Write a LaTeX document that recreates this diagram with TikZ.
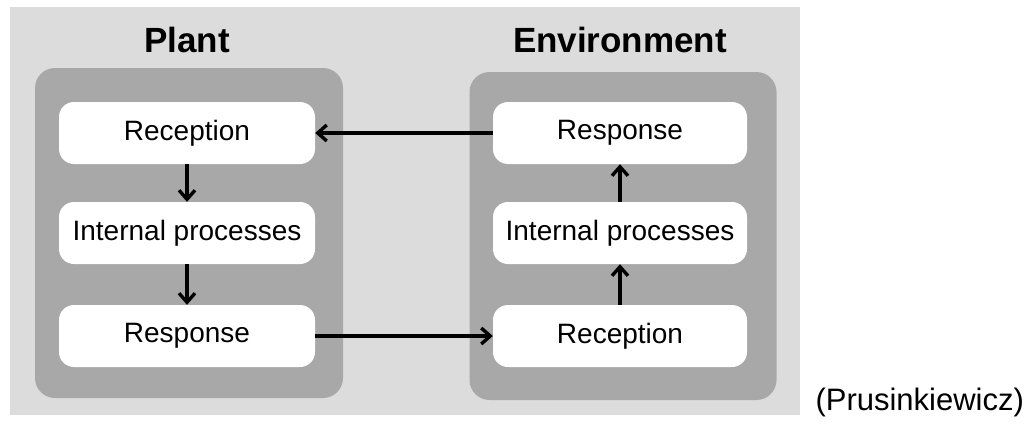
\documentclass[tikz,border=0pt]{standalone}
\usepackage{fontspec}
\setmainfont{Liberation Sans}
\definecolor{bglight}{HTML}{DCDCDC}
\definecolor{bgdark}{HTML}{A8A8A8}
\tikzset{
	panel/.style={fill=bgdark, rounded corners=20pt, minimum width=308pt, minimum height=330pt},
	stage/.style={fill=white, rounded corners=15pt, minimum width=256pt, minimum height=62pt,
		font=\fontsize{28}{32}\selectfont},
	heading/.style={font=\fontsize{35}{40}\selectfont\bfseries},
	flow/.style={-{Straight Barb[length=9pt,width=16pt]}, line width=3.4pt}
}
\usetikzlibrary{arrows.meta}
\begin{document}
\begin{tikzpicture}[x=1pt, y=-1pt]
	\useasboundingbox (0,0) rectangle (1027,423);
	\fill[bglight] (10,7) rectangle (800,415);

	\draw (187, 40) node[heading] (plant) {Plant};
	\draw (189,233) node[panel] (plantbox) {};
	\draw (187,133) node[stage] (prec) {Reception};
	\draw (187,233) node[stage] (pint) {Internal processes};
	\draw (187,336) node[stage] (presp) {Response};

	\draw (620, 40) node[heading] (env) {Environment};
	\draw (623,236) node[panel, minimum width=307pt, minimum height=328pt] (envbox) {};
	\draw (620,133) node[stage, minimum width=254pt] (eresp) {Response};
	\draw (620,233) node[stage, minimum width=254pt] (eint) {Internal processes};
	\draw (620,336) node[stage, minimum width=254pt] (erec) {Reception};

	\draw[flow] (prec) -- (pint);
	\draw[flow] (pint) -- (presp);
	\draw[flow] (erec) -- (eint);
	\draw[flow] (eint) -- (eresp);
	\draw[flow] (eresp) -- (prec);
	\draw[flow] (presp) -- (erec);

	\draw (812,410) node[anchor=base west, font=\fontsize{31}{36}\selectfont] (credit) {(Prusinkiewicz)};
\end{tikzpicture}
\end{document}
